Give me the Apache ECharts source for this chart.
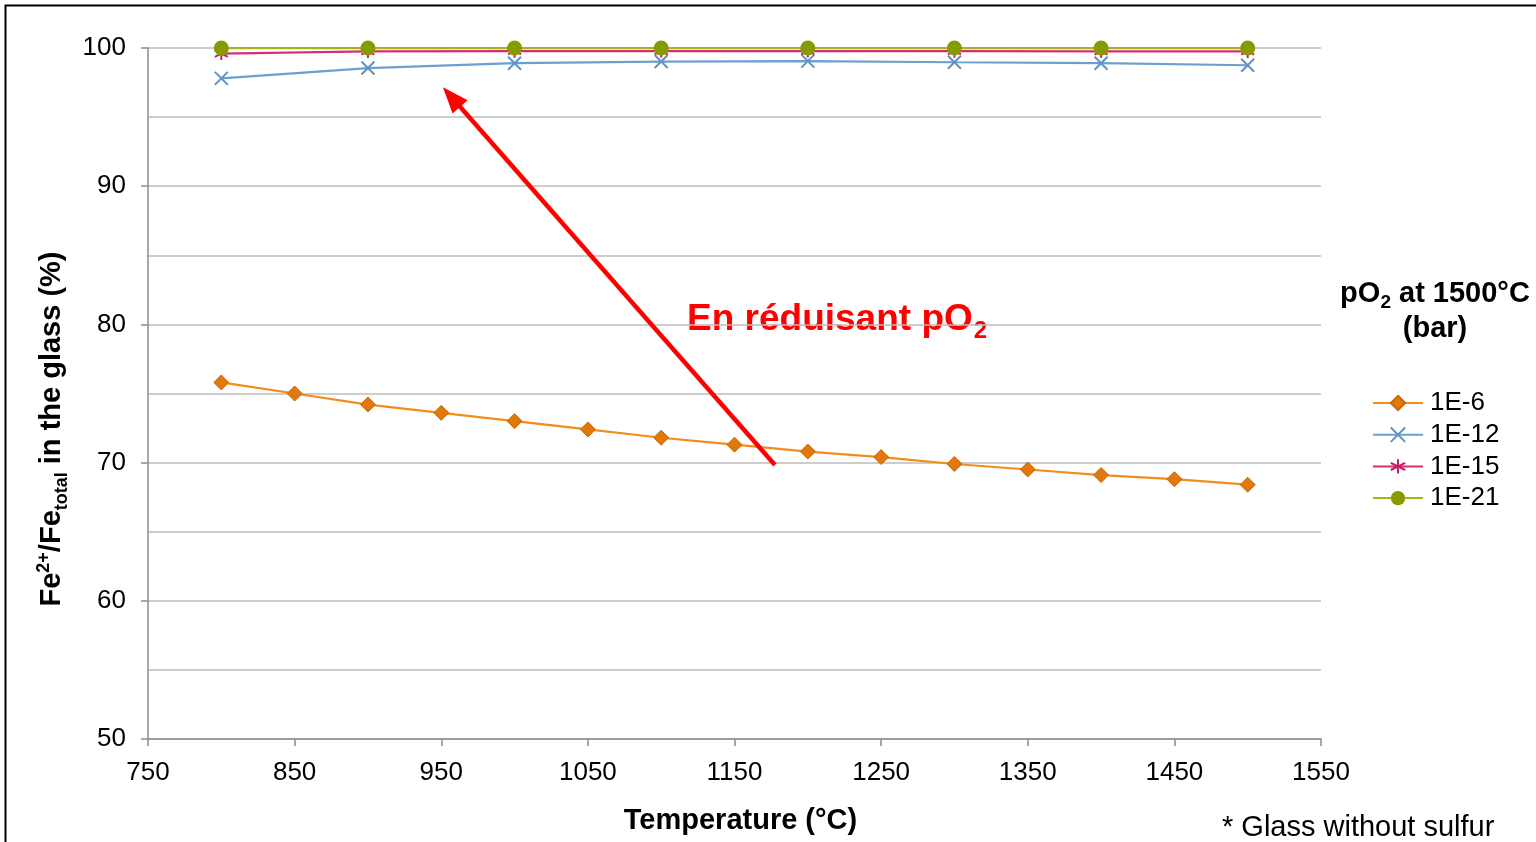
<!DOCTYPE html>
<html>
<head>
<meta charset="utf-8">
<script src="https://cdn.jsdelivr.net/npm/echarts@6/dist/echarts.min.js"></script>
<style>
  html, body { margin: 0; padding: 0; background: #fff; }
  #chart { width: 1536px; height: 842px; }
</style>
</head>
<body>
<div id="chart"></div>
<script>
// Temperatures (°C) at which each redox state was computed
const tempsFine = [800, 850, 900, 950, 1000, 1050, 1100, 1150, 1200, 1250, 1300, 1350, 1400, 1450, 1500];
const tempsCoarse = [800, 900, 1000, 1100, 1200, 1300, 1400, 1500];

// Fe2+/Fe_total (%) for each pO2 imposed at 1500 °C
const fe_1e6  = [75.8, 75.0, 74.2, 73.6, 73.0, 72.4, 71.8, 71.3, 70.8, 70.4, 69.9, 69.5, 69.1, 68.8, 68.4];
const fe_1e12 = [97.8, 98.55, 98.9, 99.02, 99.05, 98.97, 98.9, 98.75];
const fe_1e15 = [99.6, 99.75, 99.77, 99.78, 99.78, 99.77, 99.76, 99.75];
const fe_1e21 = [100, 100, 100, 100, 100, 100, 100, 100];

const seriesNames = ['1E-6', '1E-12', '1E-15', '1E-21'];

// Arrow annotation: from the weakly reduced curve towards the reduced curves
const arrowFrom = [1177.6, 69.83];
const arrowTo = [957, 96.45];

const pairs = (xs, ys) => xs.map((x, i) => [x, ys[i]]);

const FONT = 'Liberation Sans, Arial, sans-serif';

const chart = echarts.init(document.getElementById('chart'), null, { renderer: 'canvas' });

const crossPath = 'path://M0,0L10,10M10,0L0,10';
const starPath = 'path://M5,0L5,10M0.7,2.5L9.3,7.5M0.7,7.5L9.3,2.5';
const headPath = 'path://M5,0L10,10L0,10Z';

chart.setOption({
  backgroundColor: '#ffffff',
  animation: false,
  grid: { left: 148, right: 215, top: 48, bottom: 103 },
  xAxis: {
    type: 'value',
    min: 750, max: 1550, interval: 100,
    axisLine: { show: true, lineStyle: { color: '#8c8c8c', width: 1.5 } },
    axisTick: { show: true, length: 7, lineStyle: { color: '#8c8c8c', width: 1.5 } },
    splitLine: { show: false },
    axisLabel: { color: '#000', fontSize: 26, fontFamily: FONT, margin: 21, formatter: v => String(v) },
    name: 'Temperature (°C)',
    nameLocation: 'middle',
    nameGap: 67,
    nameTextStyle: { color: '#000', fontSize: 29, fontWeight: 'bold', fontFamily: FONT, padding: [0, 0, 0, 12] }
  },
  yAxis: {
    type: 'value',
    min: 50, max: 100, interval: 10,
    axisLine: { show: true, lineStyle: { color: '#8c8c8c', width: 1.5 } },
    axisTick: { show: true, length: 7, lineStyle: { color: '#8c8c8c', width: 1.5 } },
    minorTick: { show: false, splitNumber: 2 },
    splitLine: { show: true, lineStyle: { color: '#bdbdbd', width: 1.5 } },
    minorSplitLine: { show: true, lineStyle: { color: '#bdbdbd', width: 1.5 } },
    axisLabel: { color: '#000', fontSize: 26, fontFamily: FONT, margin: 22 }
  },
  legend: {
    orient: 'vertical',
    left: 1372, top: 390,
    padding: 0,
    itemWidth: 50, itemHeight: 18,
    itemGap: 5.7,
    data: seriesNames,
    textStyle: { color: '#000', fontSize: 26, fontFamily: FONT, lineHeight: 26, padding: [0, 0, 0, 2] }
  },
  series: [
    {
      name: seriesNames[0], type: 'line', data: pairs(tempsFine, fe_1e6),
      symbol: 'diamond', symbolSize: 15,
      lineStyle: { color: '#F28C1A', width: 2.2 },
      itemStyle: { color: '#E3780A', borderColor: '#C9690A', borderWidth: 1 },
      z: 2,
      markLine: {
        silent: true,
        symbol: ['none', headPath],
        symbolSize: [20, 26],
        label: { show: false },
        lineStyle: { color: '#FF0000', width: 4.5, type: 'solid' },
        data: [[{ coord: arrowFrom }, { coord: arrowTo }]]
      }
    },
    {
      name: seriesNames[1], type: 'line', data: pairs(tempsCoarse, fe_1e12),
      symbol: crossPath, symbolSize: 13,
      lineStyle: { color: '#6C9FCB', width: 2.2 },
      itemStyle: { color: 'rgba(0,0,0,0)', borderColor: '#5F93C2', borderWidth: 2 },
      z: 3
    },
    {
      name: seriesNames[2], type: 'line', data: pairs(tempsCoarse, fe_1e15),
      symbol: starPath, symbolSize: 13,
      lineStyle: { color: '#D32F72', width: 2.2 },
      itemStyle: { color: 'rgba(0,0,0,0)', borderColor: '#C71F66', borderWidth: 2 },
      z: 4
    },
    {
      name: seriesNames[3], type: 'line', data: pairs(tempsCoarse, fe_1e21),
      symbol: 'circle', symbolSize: 15,
      lineStyle: { color: '#A5B51E', width: 2.4 },
      itemStyle: { color: '#879A00' },
      z: 5
    }
  ],
  graphic: [
    // frame around the figure
    { type: 'polyline', shape: { points: [[5.5, 842], [5.5, 5.5], [1536, 5.5]] },
      style: { stroke: '#000', lineWidth: 2, fill: null }, silent: true },
    // y axis title with super/subscripts
    {
      type: 'text', x: 52, y: 429, rotation: Math.PI / 2,
      style: {
        text: '{b|Fe}{sup|2+}{b|/Fe}{sub|total}{b| in the glass (%)}',
        align: 'center', verticalAlign: 'middle',
        fill: '#000',
        rich: {
          b: { fontSize: 29, fontWeight: 'bold', fontFamily: FONT, lineHeight: 38, verticalAlign: 'middle' },
          sup: { fontSize: 18, fontWeight: 'bold', fontFamily: FONT, lineHeight: 38, verticalAlign: 'top', padding: [2, 0, 0, 0] },
          sub: { fontSize: 18, fontWeight: 'bold', fontFamily: FONT, lineHeight: 38, verticalAlign: 'bottom' }
        }
      }
    },
    // annotation text
    {
      type: 'text', x: 687, y: 320,
      style: {
        text: '{b|En réduisant pO}{sub|2}',
        align: 'left', verticalAlign: 'middle',
        fill: '#FF0000',
        rich: {
          b: { fontSize: 37, fontWeight: 'bold', fontFamily: FONT, fill: '#FF0000', lineHeight: 46, verticalAlign: 'middle' },
          sub: { fontSize: 24, fontWeight: 'bold', fontFamily: FONT, fill: '#FF0000', lineHeight: 46, verticalAlign: 'bottom', padding: [0, 0, 0, 1] }
        }
      }
    },
    // legend heading
    {
      type: 'text', x: 1435, y: 294,
      style: {
        text: '{b|pO}{sub|2}{b| at 1500°C}',
        align: 'center', verticalAlign: 'middle',
        rich: {
          b: { fontSize: 29, fontWeight: 'bold', fontFamily: FONT, fill: '#000', lineHeight: 36, verticalAlign: 'middle' },
          sub: { fontSize: 19, fontWeight: 'bold', fontFamily: FONT, fill: '#000', lineHeight: 36, verticalAlign: 'bottom' }
        }
      }
    },
    {
      type: 'text', x: 1435, y: 329,
      style: { text: '(bar)', align: 'center', verticalAlign: 'middle',
        font: 'bold 29px ' + FONT, fill: '#000' }
    },
    // footnote
    {
      type: 'text', x: 1222, y: 828,
      style: { text: '* Glass without sulfur', align: 'left', verticalAlign: 'middle',
        font: '29px ' + FONT, fill: '#000' }
    }
  ]
});
</script>
</body>
</html>
